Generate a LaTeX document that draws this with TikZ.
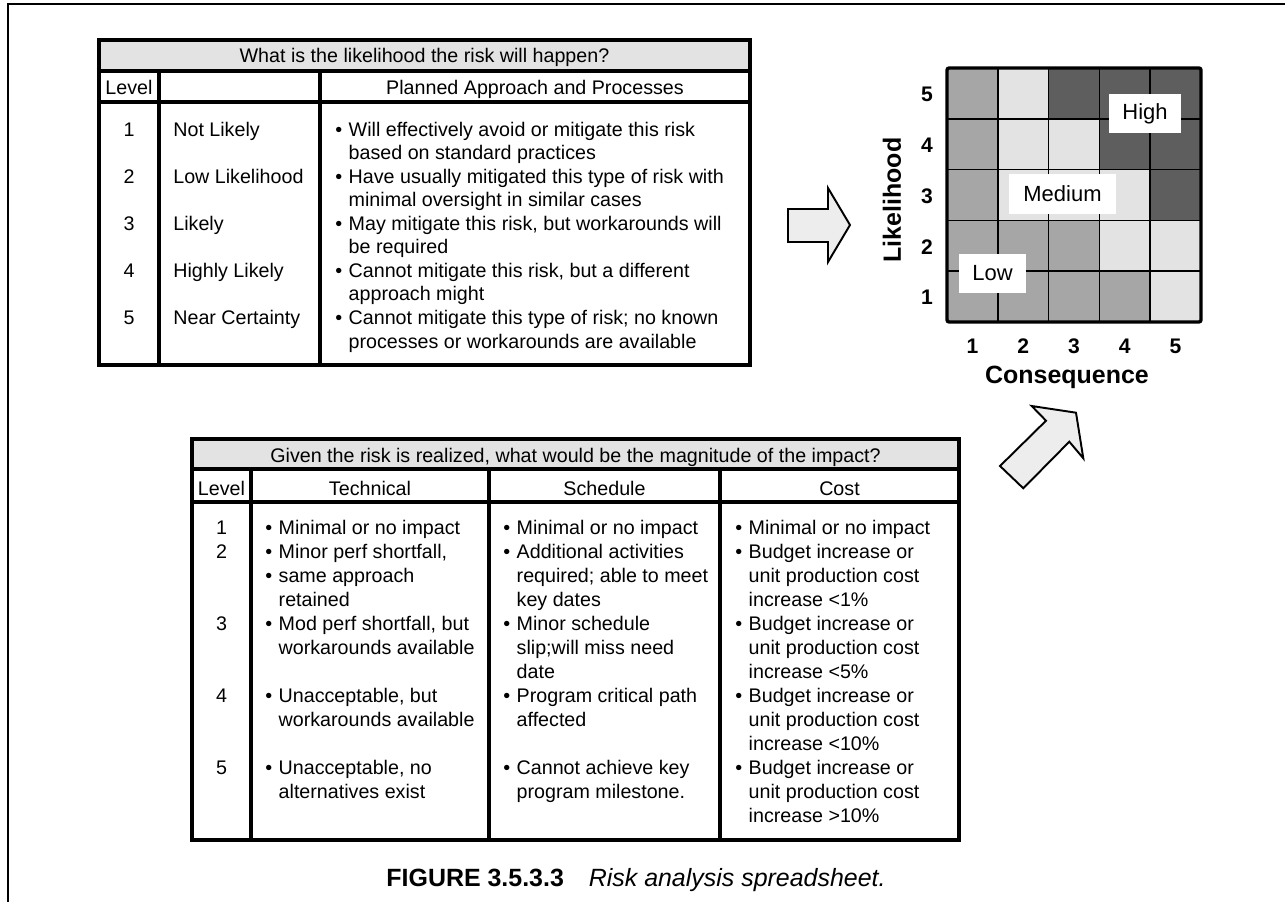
\documentclass[tikz,border=0pt]{standalone}
\usepackage{fontspec}
\setmainfont{Liberation Sans}
\usepackage{xcolor}
\usepackage{tikz}
\usetikzlibrary{calc}

\definecolor{hdrgray}{gray}{0.89}
\definecolor{lowgray}{gray}{0.65}
\definecolor{medgray}{gray}{0.89}
\definecolor{highgray}{gray}{0.37}
\definecolor{arrgray}{gray}{0.93}

\newlength{\bulw}
\setlength{\bulw}{7.6pt}
\newcommand{\bul}{\makebox[\bulw][l]{\textbullet}}
\newcommand{\ind}{\hspace*{\bulw}}

\begin{document}
\begin{tikzpicture}[
  x=0.02cm, y=-0.02cm,
  font=\fontsize{11.2}{13.4}\selectfont,
  rule/.style={line width=1.8pt},
  hdr/.style={inner sep=0pt,anchor=base},
  col/.style={inner sep=0pt,align=left,anchor=north west},
  lvl/.style={inner sep=0pt,align=center,anchor=north},
  wide/.style={font=\fontsize{11.2}{13.65}\selectfont},
  cellL/.style={fill=lowgray},
  cellM/.style={fill=medgray},
  cellH/.style={fill=highgray},
  zone/.style={fill=white,inner sep=0pt,font=\fontsize{12.5}{15}\selectfont},
  tick/.style={inner sep=0pt,font=\bfseries\fontsize{12}{14}\selectfont},
  axis/.style={inner sep=0pt,font=\bfseries\fontsize{14.2}{17}\selectfont},
  blockarrow/.style={draw,fill=arrgray,line width=1.1pt,line join=miter}
]
\useasboundingbox (0,0) rectangle (1285,902);
% ---- Page frame ----
\draw[line width=1.1pt] (8,902) -- (8,4) -- (1285,4);
% ---- Likelihood table ----
\fill[hdrgray] (99,40) rectangle (750,71);
\draw[rule] (99,40) rectangle (750,365);
\draw[rule] (99,71) -- (750,71) (99,102) -- (750,102);
\draw[rule] (159,71) -- (159,365) (320,71) -- (320,365);
\node[hdr] (lhead) at (424.5,63) {What is the likelihood the risk will happen?};
\node[hdr] (llevel) at (129,95) {Level};
\node[hdr] (lplan) at (535,95) {Planned Approach and Processes};
\node[lvl] (lnums) at (129,119.3)
  {\strut 1\\[13.4pt]2\\[13.4pt]3\\[13.4pt]4\\[13.4pt]5};
\node[col] (lnames) at (173,119.3)
  {\strut Not Likely\\[13.4pt]Low Likelihood\\[13.4pt]Likely\\[13.4pt]%
   Highly Likely\\[13.4pt]Near Certainty};
\node[col] (lplans) at (335,119.3)
  {\strut\bul Will effectively avoid or mitigate this risk\\
   \ind based on standard practices\\
   \bul Have usually mitigated this type of risk with\\
   \ind minimal oversight in similar cases\\
   \bul May mitigate this risk, but workarounds will\\
   \ind be required\\
   \bul Cannot mitigate this risk, but a different\\
   \ind approach might\\
   \bul Cannot mitigate this type of risk; no known\\
   \ind processes or workarounds are available};
% ---- Risk matrix ----
\foreach \r/\row in {5/{cellL,cellM,cellH,cellH,cellH},
                     4/{cellL,cellM,cellM,cellH,cellH},
                     3/{cellL,cellM,cellM,cellM,cellH},
                     2/{cellL,cellL,cellL,cellM,cellM},
                     1/{cellL,cellL,cellL,cellL,cellM}}
  \foreach \s [count=\c] in \row
    \fill[\s] ({947+(\c-1)*50.8},{68+(5-\r)*50.8}) rectangle ++(50.8,50.8);
\foreach \k in {1,...,4} {
  \draw[line width=1pt] ({947+\k*50.8},68) -- ({947+\k*50.8},322);
  \draw[line width=1pt] (947,{68+\k*50.8}) -- (1201,{68+\k*50.8});
}
\draw[line width=1.9pt,rounded corners=1.2pt] (947,68) rectangle (1201,322);
\node[zone,minimum width=1.44cm,minimum height=0.78cm] (high) at (1145,113.5) {High};
\node[zone,minimum width=2.14cm,minimum height=0.8cm] (medium) at (1062.5,194) {Medium};
\node[zone,minimum width=1.34cm,minimum height=0.78cm] (low) at (992.5,273.5) {Low};
\foreach \n in {1,...,5} {
  \node[tick] (ly\n) at (927,{69+(5.5-\n)*50.8}) {\n};
  \node[tick] (cx\n) at ({947+(\n-0.5)*50.8},346) {\n};
}
\node[axis,rotate=90] (likelihood) at (892,200) {Likelihood};
\node[axis] (consequence) at (1067,377) {Consequence};
% ---- Block arrows ----
\draw[blockarrow] (788,209) -- (828,209) -- (828,188) -- (850,225) -- (828,262)
  -- (828,242) -- (788,242) -- cycle;
\draw[blockarrow] (1000,466) -- (1046,420.7) -- (1031.7,406) -- (1076,412.7)
  -- (1083.3,458.3) -- (1069.3,441.7) -- (1023.3,488.3) -- cycle;
% ---- Impact table ----
\fill[hdrgray] (192,439) rectangle (959,469);
\draw[rule] (192,439) rectangle (959,840);
\draw[rule] (192,469) -- (959,469) (192,502) -- (959,502);
\draw[rule] (251,469) -- (251,840) (489,469) -- (489,840) (720,469) -- (720,840);
\node[hdr] (ihead) at (575.5,462.5)
  {Given the risk is realized, what would be the magnitude of the impact?};
\node[hdr] (ilevel) at (221.5,495) {Level};
\node[hdr] (itech) at (370,495) {Technical};
\node[hdr] (isched) at (604.5,495) {Schedule};
\node[hdr] (icost) at (839.5,495) {Cost};
\node[lvl,wide] (inums) at (221.5,517.5) {\strut 1\\2\\[27.3pt]3\\[27.3pt]4\\[27.3pt]5};
\node[col,wide] (itechs) at (265,517.5)
  {\strut\bul Minimal or no impact\\
   \bul Minor perf shortfall,\\
   \bul same approach\\
   \ind retained\\
   \bul Mod perf shortfall, but\\
   \ind workarounds available\\[13.65pt]
   \bul Unacceptable, but\\
   \ind workarounds available\\[13.65pt]
   \bul Unacceptable, no\\
   \ind alternatives exist};
\node[col,wide] (ischeds) at (503,517.5)
  {\strut\bul Minimal or no impact\\
   \bul Additional activities\\
   \ind required; able to meet\\
   \ind key dates\\
   \bul Minor schedule\\
   \ind slip;will miss need\\
   \ind date\\
   \bul Program critical path\\
   \ind affected\\[13.65pt]
   \bul Cannot achieve key\\
   \ind program milestone.};
\node[col,wide] (icosts) at (735,517.5)
  {\strut\bul Minimal or no impact\\
   \bul Budget increase or\\
   \ind unit production cost\\
   \ind increase <1\%\\
   \bul Budget increase or\\
   \ind unit production cost\\
   \ind increase <5\%\\
   \bul Budget increase or\\
   \ind unit production cost\\
   \ind increase <10\%\\
   \bul Budget increase or\\
   \ind unit production cost\\
   \ind increase >10\%};
% ---- Caption ----
\node[inner sep=0pt,font=\fontsize{14.2}{17}\selectfont] (caption) at (636,880)
  {\textbf{FIGURE 3.5.3.3}\quad\textit{Risk analysis spreadsheet.}};
\end{tikzpicture}
\end{document}
